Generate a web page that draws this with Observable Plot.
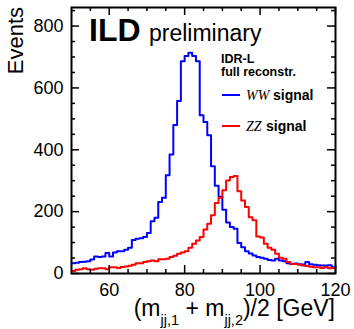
<!DOCTYPE html>
<html><head><meta charset="utf-8">
<script src="https://cdn.jsdelivr.net/npm/d3@7"></script>
<script src="https://cdn.jsdelivr.net/npm/@observablehq/plot@0.6"></script>
<style>
html,body{margin:0;padding:0;background:#fff;}
</style></head><body><div id="chart"></div>
<script>
// histogram: 1 GeV bins from 50 to 120
const binStart = 50;
const binWidth = 1;
const wwSignal = [33,35,37,38,40,45,55,53,55,66, 55,68,72,72,77,83,108,112,114,118,
  131,169,180,231,245,318,385,480,558,686, 703,714,703,686,512,490,447,347,284,248,
  206,165,150,145,99,85,72,65,58,53, 51,48,44,42,48,42,40,33,31,32, 30,29,37,30,28,27,26,26,27,20];
const zzSignal = [8,12,14,17,14,12,15,17,17,14, 20,20,18,21,23,25,28,33,33,37,
  40,42,40,46,46,48,53,57,64,68, 72,83,96,107,118,142,161,188,228,245,
  269,301,312,315,266,236,215,182,172,120, 116,96,83,77,64,51,48,37,31,31, 28,26,24,22,20,20,18,20,17,18];
const xTickLabels = [60, 80, 100, 120];
const xMinorTicks = [55, 65, 70, 75, 85, 90, 95, 105, 110, 115];
const yTickLabels = [0, 200, 400, 600, 800];
const yMinorTicks = [50,100,150,250,300,350,450,500,550,650,700,750,850];
const xDomain = [50, 120];
const yDomain = [0, 860];

const W = 354, H = 329, mL = 71, mR = 19, mT = 7, mB = 56;
const yPerPx = (yDomain[1]-yDomain[0]) / (H - mT - mB);
const xPerPx = (xDomain[1]-xDomain[0]) / (W - mL - mR);

function steps(vals) {
  const pts = vals.map((v, i) => ({x: binStart + i*binWidth, y: v}));
  pts.push({x: binStart + vals.length*binWidth, y: vals[vals.length-1]});
  return pts;
}

const majL = 8, minL = 4;
const plot = Plot.plot({
  width: W, height: H,
  marginLeft: mL, marginRight: mR, marginTop: mT, marginBottom: mB,
  x: {domain: xDomain},
  y: {domain: yDomain},
  style: {fontFamily: '"Liberation Sans", Arial, sans-serif', fontSize: "18px", color: "black", background: "white"},
  marks: [
    Plot.line(steps(wwSignal), {x: "x", y: "y", curve: "step-after", stroke: "#0000ff", strokeWidth: 2}),
    Plot.line(steps(zzSignal), {x: "x", y: "y", curve: "step-after", stroke: "#ff0000", strokeWidth: 2}),
    // inside ticks, bottom/top
    Plot.ruleX(xTickLabels, {x: d => d, y1: yDomain[0], y2: yDomain[0] + majL*yPerPx, stroke: "black", strokeWidth: 1.5}),
    Plot.ruleX(xMinorTicks, {x: d => d, y1: yDomain[0], y2: yDomain[0] + minL*yPerPx, stroke: "black", strokeWidth: 1.5}),
    Plot.ruleX(xTickLabels, {x: d => d, y1: yDomain[1], y2: yDomain[1] - majL*yPerPx, stroke: "black", strokeWidth: 1.5}),
    Plot.ruleX(xMinorTicks, {x: d => d, y1: yDomain[1], y2: yDomain[1] - minL*yPerPx, stroke: "black", strokeWidth: 1.5}),
    // inside ticks, left/right
    Plot.ruleY(yTickLabels, {y: d => d, x1: xDomain[0], x2: xDomain[0] + majL*xPerPx, stroke: "black", strokeWidth: 1.5}),
    Plot.ruleY(yMinorTicks, {y: d => d, x1: xDomain[0], x2: xDomain[0] + minL*xPerPx, stroke: "black", strokeWidth: 1.5}),
    Plot.ruleY(yTickLabels, {y: d => d, x1: xDomain[1], x2: xDomain[1] - majL*xPerPx, stroke: "black", strokeWidth: 1.5}),
    Plot.ruleY(yMinorTicks, {y: d => d, x1: xDomain[1], x2: xDomain[1] - minL*xPerPx, stroke: "black", strokeWidth: 1.5}),
    Plot.axisX(xTickLabels, {tickSize: 0, tickPadding: 10, fontSize: 18, label: null}),
    Plot.axisY(yTickLabels, {tickSize: 0, tickPadding: 8, fontSize: 18, label: null}),
    Plot.frame({stroke: "black", strokeWidth: 2})
  ]
});

document.getElementById("chart").appendChild(plot);
const svg = d3.select(plot);
const font = '"Liberation Sans", Arial, sans-serif';
const serif = '"Liberation Serif", "Times New Roman", serif';

function txt(x, y, s, opts = {}) {
  return svg.append("text").attr("x", x).attr("y", y)
    .style("font-family", opts.family || font)
    .style("font-size", (opts.size || 14) + "px")
    .style("font-weight", opts.weight || "normal")
    .style("font-style", opts.style || "normal")
    .attr("text-anchor", opts.anchor || "start")
    .attr("fill", "black")
    .text(s);
}

txt(89, 41, "ILD", {size: 32, weight: "bold"});
txt(149, 41, "preliminary", {size: 23});
txt(221, 63, "IDR-L", {size: 12.5, weight: "bold"});
txt(221, 76, "full reconstr.", {size: 12.5, weight: "bold"});

// legend
svg.append("line").attr("x1", 222).attr("x2", 240).attr("y1", 95).attr("y2", 95).attr("stroke", "#0000ff").attr("stroke-width", 2);
txt(246, 99.5, "WW", {size: 14, style: "italic", family: serif});
txt(273, 99.5, "signal", {size: 14, weight: "bold"});
svg.append("line").attr("x1", 222).attr("x2", 240).attr("y1", 126).attr("y2", 126).attr("stroke", "#ff0000").attr("stroke-width", 2);
txt(246, 130.5, "ZZ", {size: 14, style: "italic", family: serif});
txt(266, 130.5, "signal", {size: 14, weight: "bold"});

// y title
svg.append("text").attr("transform", "translate(23,7) rotate(-90)")
  .attr("text-anchor", "end").style("font-family", font).style("font-size", "22px").attr("fill", "black")
  .text("Events");

// x title
const xt = svg.append("text").attr("x", 335).attr("y", 316).attr("text-anchor", "end")
  .style("font-family", font).style("font-size", "23px").attr("fill", "black");
xt.append("tspan").text("(m");
xt.append("tspan").style("font-size", "14.5px").attr("dy", 9).text("jj,1");
xt.append("tspan").attr("dy", -9).text(" + m");
xt.append("tspan").style("font-size", "14.5px").attr("dy", 9).text("jj,2");
xt.append("tspan").attr("dy", -9).text(")/2 [GeV]");
</script></body></html>
